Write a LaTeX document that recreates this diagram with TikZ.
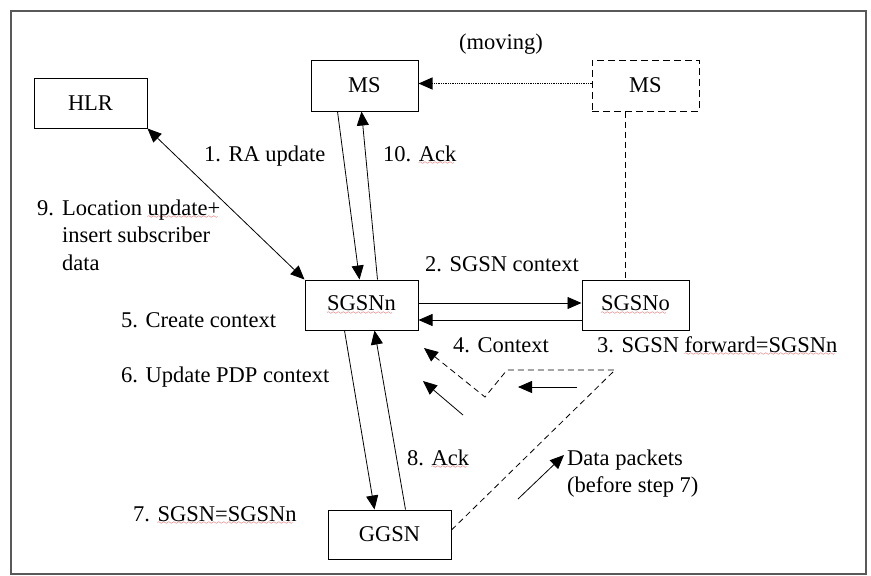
\documentclass[tikz,border=0pt]{standalone}
\usepackage{fontspec}
\setmainfont{Liberation Serif}
\usetikzlibrary{arrows.meta}

% red wavy underline under words flagged by the spell checker
\font\sqfont=lasy6
\newcommand{\sq}[1]{\setbox0=\hbox{#1}\rlap{\color{red!85!black}\leaders\hbox{\lower3.5pt\hbox{\sqfont\char58}}\hskip\wd0}\box0}

\tikzset{
  txtfont/.style={font=\fontsize{22.5}{27.5}\selectfont},
  box/.style={draw, line width=1pt, inner sep=0pt, txtfont},
  dbox/.style={box, dash pattern=on 7pt off 4pt},
  lbl/.style={inner sep=0pt, anchor=base west, txtfont},
  conn/.style={line width=0.8pt},
  tip/.style={-{Triangle[length=14pt,width=12pt]}},
  arr/.style={conn, tip},
  biarr/.style={conn, {Triangle[length=14pt,width=12pt]}-{Triangle[length=14pt,width=12pt]}},
  dline/.style={conn, dash pattern=on 6pt off 4pt},
  dotline/.style={line width=1.3pt, dash pattern=on 1.3pt off 1pt},
}

\begin{document}
\begin{tikzpicture}[x=1pt,y=-1pt]
\useasboundingbox (0,0) rectangle (871,576);
\draw[black!65, line width=1.3pt] (11,11) rectangle (866,574);

% network elements
\node[box, minimum width=113pt, minimum height=50pt] (hlr)   at (90.5,103)   {HLR};
\node[box, minimum width=107pt, minimum height=51pt] (ms)    at (364.5,85.5) {MS};
\node[dbox, minimum width=107pt, minimum height=51pt] (mso)  at (645.5,85.5) {MS};
\node[box, minimum width=113pt, minimum height=50pt] (sgsnn) at (361.5,305)  {\sq{SGSNn}};
\node[box, minimum width=107pt, minimum height=50pt] (sgsno) at (635.5,305)  {\sq{SGSNo}};
\node[box, minimum width=123pt, minimum height=49pt] (ggsn)  at (389.5,534.5) {GGSN};

% signalling
\draw[biarr] (hlr.south east) -- (sgsnn.north west);
\draw[arr] ([xshift=27pt]ms.south west) -- ([xshift=55pt]sgsnn.north west);
\draw[arr] ([xshift=73pt]sgsnn.north west) -- ([xshift=51pt]ms.south west);
\draw[dotline, tip] ([yshift=2pt]mso.west) -- ([yshift=2pt]ms.east);
\draw[dline] ([xshift=34pt]mso.south west) -- ([xshift=44pt]sgsno.north west);
\draw[arr] ([yshift=2pt]sgsnn.east) -- ([yshift=2pt]sgsno.west);
\draw[arr] ([yshift=-15pt]sgsno.west) -- ([yshift=-15pt]sgsnn.east);
\draw[arr] ([xshift=40pt]sgsnn.south west) -- ([xshift=47pt]ggsn.north west);
\draw[arr] ([xshift=78pt]ggsn.north west) -- ([xshift=70pt]sgsnn.south west);

% forwarded data path
\coordinate (d1) at (615,370);
\coordinate (d2) at (507,370);
\coordinate (d3) at (485,397);
\coordinate (d4) at (424,348);
\draw[dline, tip] ([yshift=4.5pt]ggsn.east) -- (d1) -- (d2) -- (d3) -- (d4);

% direction hints
\coordinate (a1s) at (577,387);
\coordinate (a1e) at (518,387);
\coordinate (a2s) at (463,415);
\coordinate (a2e) at (423,381);
\coordinate (a3s) at (518,499);
\coordinate (a3e) at (564,455);
\draw[arr] (a1s) -- (a1e);
\draw[arr] (a2s) -- (a2e);
\draw[arr] (a3s) -- (a3e);

% labels
\node[lbl] (tmov) at (459,49)  {(moving)};
\node[lbl] (t1)   at (204,161) {1. RA update};
\node[lbl] (t10)  at (383,161) {10. \sq{Ack}};
\node[lbl] (t9)   at (37,215)  {\begin{tabular}[t]{@{}l@{\hspace{8pt}}l@{}}9.& Location \sq{update+}\\ & insert subscriber\\ & data\end{tabular}};
\node[lbl] (t2)   at (425,271) {2. SGSN context};
\node[lbl] (t5)   at (121,327) {5. Create context};
\node[lbl] (t6)   at (121,382) {6. Update PDP context};
\node[lbl] (t4)   at (453,352) {4. Context};
\node[lbl] (t3)   at (597,352) {3. SGSN \sq{forward=SGSNn}};
\node[lbl] (t8)   at (407,465) {8. \sq{Ack}};
\node[lbl] (tdp)  at (567,465) {\begin{tabular}[t]{@{}l@{}}Data packets\\(before step 7)\end{tabular}};
\node[lbl] (t7)   at (133,521) {7. \sq{SGSN=SGSNn}};
\end{tikzpicture}
\end{document}
